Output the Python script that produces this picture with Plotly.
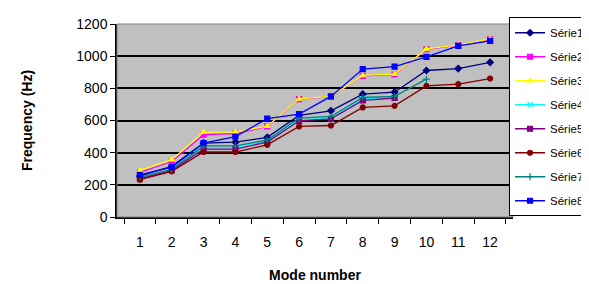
import plotly.graph_objects as go

modes = [str(i) for i in range(1, 13)]
serie1 = [255, 315, 460, 465, 495, 632, 660, 764, 776, 911, 923, 962]
serie2 = [278, 345, 512, 518, 563, 733, 748, 878, 886, 1043, 1068, 1105]
serie3 = [290, 356, 528, 528, 565, 735, 750, 880, 888, 1045, 1070, 1107]
serie4 = [242, 292, 432, 432, 472, 605, 615, 735, 742]
serie5 = [238, 290, 422, 422, 466, 598, 610, 725, 740]
serie6 = [232, 284, 404, 404, 449, 563, 569, 681, 691, 815, 826, 861]
serie7 = [246, 296, 442, 442, 478, 615, 625, 743, 750, 857]
serie8 = [262, 310, 460, 500, 612, 640, 750, 920, 935, 995, 1064, 1095]

names = ["Série1", "Série2", "Série3", "Série4", "Série5", "Série6", "Série7", "Série8"]
data = [serie1, serie2, serie3, serie4, serie5, serie6, serie7, serie8]
colors = ["#000080", "#FF00FF", "#FFFF00", "#00FFFF", "#800080", "#800000", "#008080", "#0000FF"]
symbols = ["diamond", "square", "triangle-up", "x-thin", "square", "circle", "cross-thin", "square"]

fig = go.Figure()
for i, (n, d, c, s) in enumerate(zip(names, data, colors, symbols)):
    fig.add_trace(go.Scatter(
        x=modes[:len(d)], y=d, name=n, mode="lines+markers",
        line=dict(color=c, width=1.3),
        marker=dict(color=c, symbol=s, size=5, line=dict(color=c, width=1.2)),
        legendgroup=f"g{i}",
    ))

fig.update_layout(
    width=589, height=284,
    margin=dict(l=109, r=84, t=16, b=75, autoexpand=False),
    paper_bgcolor="white", plot_bgcolor="#C0C0C0",
    font=dict(family="Liberation Sans, Arial, sans-serif", size=13, color="black"),
    showlegend=True,
    legend=dict(
        x=0.99, xanchor="left", y=1.035, yanchor="top",
        bordercolor="black", borderwidth=1, bgcolor="white",
        font=dict(size=11.5), tracegroupgap=5, itemwidth=30, maxheight=400,
    ),
    xaxis=dict(
        type="category", tickson="boundaries", ticks="outside", ticklen=5,
        tickcolor="black", showline=True, linecolor="black", linewidth=1.5,
        showgrid=False, tickfont=dict(size=14), ticklabelstandoff=11,
        title=dict(text="<b>Mode number</b>", font=dict(size=14), standoff=22),
        mirror=False,
    ),
    yaxis=dict(
        range=[0, 1200], dtick=200, ticks="outside", ticklen=5, tickcolor="black",
        showline=True, linecolor="black", linewidth=1.5,
        showgrid=True, gridcolor="black", gridwidth=1.5,
        zeroline=False, tickfont=dict(size=14),
        title=dict(text="<b>Frequency (Hz)</b>", font=dict(size=14), standoff=40),
    ),
    shapes=[dict(type="rect", xref="paper", yref="paper", x0=0, x1=1, y0=0, y1=1,
                 line=dict(color="#808080", width=1))],
)

fig.write_html("out.html")
